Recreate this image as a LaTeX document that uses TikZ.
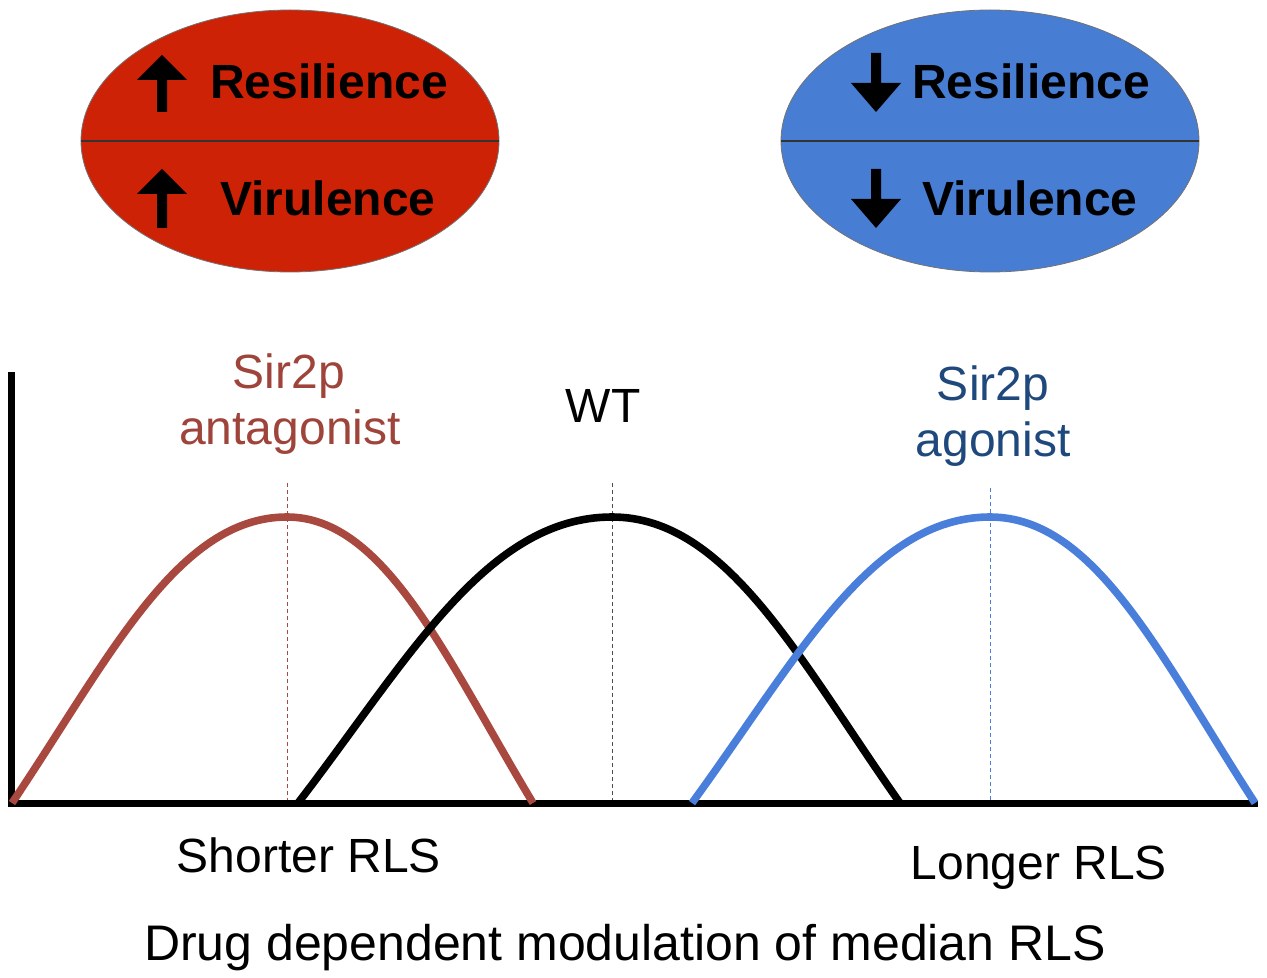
\documentclass[tikz,border=0pt]{standalone}
\usepackage{fontspec}
\setmainfont{Liberation Sans}
\usetikzlibrary{shapes.geometric, positioning}

\definecolor{ovalred}{RGB}{205,34,6}
\definecolor{ovalblue}{RGB}{72,125,212}
\definecolor{antred}{RGB}{168,72,62}
\definecolor{antlabel}{RGB}{158,68,58}
\definecolor{agoblue}{RGB}{74,126,219}
\definecolor{agolabel}{RGB}{31,73,125}

% block arrows: x, tip y, foot y  /  x, top y, tip y
\newcommand{\arrowup}[3]{\fill (#1-25,#2+25) -- (#1,#2) -- (#1+25,#2+25) -- (#1+5,#2+25) -- (#1+5,#3) -- (#1-5,#3) -- (#1-5,#2+25) -- cycle;}
\newcommand{\arrowdown}[3]{\fill (#1-5,#2) -- (#1+5,#2) -- (#1+5,#3-29) -- (#1+25,#3-29) -- (#1,#3) -- (#1-25,#3-29) -- (#1-5,#3-29) -- cycle;}
% distribution curve: colour, start x, peak x, end x
\newcommand{\hump}[4]{\draw[curve, #1] (#2,803) .. controls ({#2+0.35*(#3-#2)},660) and ({#2+0.6*(#3-#2)},517) .. (#3,517) .. controls ({#3+0.4*(#4-#3)},517) and ({#3+0.65*(#4-#3)},660) .. (#4,803);}

\begin{document}
\begin{tikzpicture}[x=0.5pt, y=-0.5pt]
	\tikzstyle{oval}=[ellipse, draw=black!55, line width=0.4pt, minimum width=209pt, minimum height=131pt, inner sep=0pt]
\tikzstyle{bold}=[font=\fontsize{24}{28}\selectfont\bfseries, anchor=base, inner sep=0pt]
\tikzstyle{plaintext}=[font=\fontsize{24}{28}\selectfont, anchor=base, inner sep=0pt]
\tikzstyle{curve}=[line width=3.8pt]
\tikzstyle{axisline}=[line width=3.5pt]
\tikzstyle{peakline}=[dash pattern=on 2pt off 1.5pt, line width=0.5pt]
\useasboundingbox (0,0) rectangle (1267,978);
% top ovals
\node[oval, fill=ovalred] (redoval) at (290,141) { };
\node[oval, fill=ovalblue] (blueoval) at (990,141) { };
\draw[line width=0.75pt, black!80] (redoval.west) -- (redoval.east);
\draw[line width=0.75pt, black!80] (blueoval.west) -- (blueoval.east);
\arrowup{162}{55}{112}
\arrowup{162}{169}{228}
\arrowdown{876}{53}{112}
\arrowdown{876}{169}{228}
\node[bold] (redres) at (329,99) {Resilience};
\node[bold] (redvir) at (328,216) {Virulence};
\node[bold] (blueres) at (1031,99) {Resilience};
\node[bold] (bluevir) at (1030,216) {Virulence};
% peak markers
\coordinate (anttop) at (287,483);
\coordinate (antfoot) at (287,803);
\coordinate (wttop) at (612,483);
\coordinate (wtfoot) at (612,803);
\coordinate (agotop) at (990,488);
\coordinate (agofoot) at (990,803);
\draw[peakline, antred] (anttop) -- (antfoot);
\draw[peakline, black!70] (wttop) -- (wtfoot);
\draw[peakline, agoblue] (agotop) -- (agofoot);
% axes
\coordinate (origin) at (11,803);
\draw[axisline] (11,372) -- (origin) -- (1258,803);
% curves
\hump{antred}{12}{287}{533}
\hump{black}{298}{612}{900}
\hump{agoblue}{692}{990}{1255}
% labels
\node[plaintext, antlabel] (antname) at (289,388) {Sir2p};
\node[plaintext, antlabel] (antword) at (290,444) {antagonist};
\node[plaintext] (wt) at (603,422) {WT};
\node[plaintext, agolabel] (agoname) at (993,400) {Sir2p};
\node[plaintext, agolabel] (agoword) at (993,456) {agonist};
\node[plaintext] (shorter) at (309,872) {Shorter RLS};
\node[plaintext] (longer) at (1039,879) {Longer RLS};
\node[plaintext, font=\fontsize{25}{30}\selectfont] (xlabel) at (625,960) {Drug dependent modulation of median RLS};
\end{tikzpicture}
\end{document}
